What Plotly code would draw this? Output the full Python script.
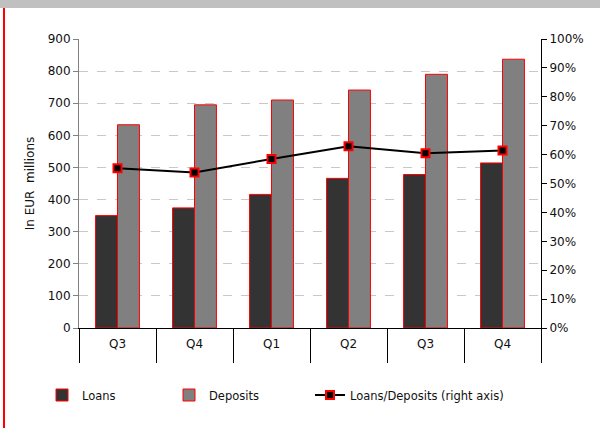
import plotly.graph_objects as go

quarters = ["Q3", "Q4", "Q1", "Q2", "Q3 ", "Q4 "]
quarter_labels = ["Q3", "Q4", "Q1", "Q2", "Q3", "Q4"]
loans = [350, 374, 416, 466, 478, 514]
deposits = [633, 695, 710, 741, 790, 837]
ratio = [0.553, 0.538, 0.585, 0.629, 0.605, 0.614]

FONT = "DejaVu Sans"
PW, PH, L, T = 462, 289, 79, 39

def px(x):
    return (x - L) / PW

def py(y):
    return (T + PH - y) / PH

fig = go.Figure()
fig.add_trace(go.Bar(x=quarters, y=loans, name="Loans", legend="legend",
                     marker=dict(color="#333333", line=dict(color="#ff0000", width=1))))
fig.add_trace(go.Bar(x=quarters, y=deposits, name="Deposits", legend="legend2",
                     marker=dict(color="#808080", line=dict(color="#ff0000", width=1))))
fig.add_trace(go.Scatter(x=quarters, y=ratio, name="Loans/Deposits (right axis)", yaxis="y2",
                         legend="legend3", mode="lines+markers",
                         line=dict(color="#000000", width=2),
                         marker=dict(symbol="square", size=8, color="#000000",
                                     line=dict(color="#ff0000", width=2))))

leg = dict(orientation="h", xref="paper", yref="paper", y=py(395), yanchor="middle",
           font=dict(family=FONT, size=11.5, color="#111111"), bgcolor="rgba(0,0,0,0)")

fig.update_layout(
    width=600, height=428,
    margin=dict(l=L, r=600 - L - PW, t=T, b=428 - T - PH, autoexpand=False),
    paper_bgcolor="white", plot_bgcolor="white",
    font=dict(family=FONT, size=12, color="#111111"),
    barmode="group", bargap=0.43, bargroupgap=0,
    showlegend=True,
    legend=dict(leg, x=px(42)),
    legend2=dict(leg, x=px(169)),
    legend3=dict(leg, x=px(310)),
    xaxis=dict(tickvals=quarters, ticktext=quarter_labels,
               showline=True, linecolor="#000000", linewidth=1,
               ticks="outside", tickson="boundaries", ticklen=34, tickcolor="#000000",
               ticklabelstandoff=5, showgrid=False, zeroline=False),
    yaxis=dict(range=[0, 900], dtick=100, showline=True, linecolor="#808080",
               ticks="outside", ticklen=5, tickcolor="#808080",
               showgrid=True, gridcolor="#c8c8c8", griddash="dash", zeroline=False,
               title=dict(text="In EUR  millions", font=dict(family=FONT, size=12), standoff=10)),
    yaxis2=dict(range=[0, 1], dtick=0.1, tickformat=".0%", overlaying="y", side="right",
                showline=True, linecolor="#000000", ticks="outside", ticklen=5,
                tickcolor="#000000", showgrid=False, zeroline=False),
    shapes=[
        dict(type="rect", xref="paper", yref="paper", x0=px(0), x1=px(600),
             y0=py(8), y1=py(0), fillcolor="#c0c0c0", line=dict(width=0), layer="below"),
        dict(type="line", xref="paper", yref="paper", x0=px(4), x1=px(4),
             y0=py(428), y1=py(8), line=dict(color="#ff0000", width=2)),
    ],
)

fig.write_html("out.html")
